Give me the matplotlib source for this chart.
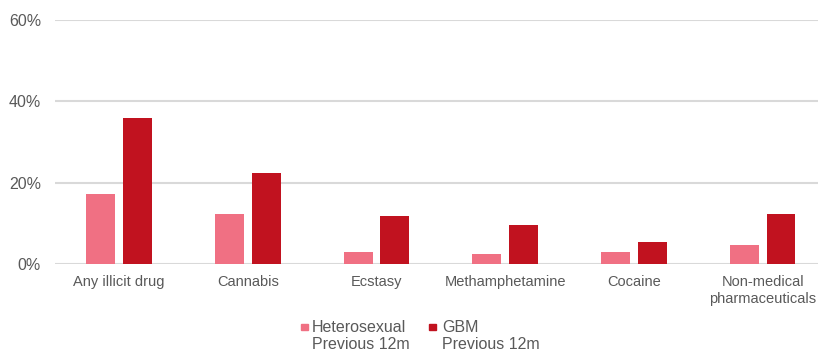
import numpy as np
import matplotlib
matplotlib.use("Agg")
import matplotlib.pyplot as plt
from matplotlib.patches import Rectangle
from matplotlib.ticker import PercentFormatter

plt.rcParams['font.family'] = ['Liberation Sans', 'DejaVu Sans']

categories = ["Any illicit drug", "Cannabis", "Ecstasy", "Methamphetamine",
              "Cocaine", "Non-medical\npharmaceuticals"]
hetero = [17.2, 12.4, 2.9, 2.5, 2.9, 4.7]
gbm = [35.9, 22.4, 11.8, 9.7, 5.5, 12.3]
series_labels = ["Heterosexual\nPrevious 12m", "GBM\nPrevious 12m"]

pink = "#F07083"
red = "#C1121F"
grey_text = "#595959"

W, H = 818, 354
fig = plt.figure(figsize=(W / 100, H / 100), dpi=100)
ax = fig.add_axes([0.067, 0.254, 0.933, 0.6895])

x = np.arange(len(categories))
w = 0.225
off = 0.1425
ax.bar(x - off, hetero, width=w, color=pink, zorder=3)
ax.bar(x + off, gbm, width=w, color=red, zorder=3)

ax.set_ylim(0, 60)
ax.set_xlim(-0.5, 5.43)
ax.set_yticks([0, 20, 40, 60])
ax.yaxis.set_major_formatter(PercentFormatter(decimals=0))
ax.grid(axis='y', color="#D9D9D9", linewidth=1.5, zorder=0)
for s in ax.spines.values():
    s.set_visible(False)
ax.tick_params(axis='both', length=0, colors=grey_text)
ax.tick_params(axis='y', pad=10, labelsize=11.5)
ax.tick_params(axis='x', pad=8, labelsize=10.5)
ax.set_xticks(x)
ax.set_xticklabels(categories, linespacing=1.3)

# legend drawn by hand so the swatch sits on the first text line
legend_items = [(301, 312, pink, series_labels[0]), (429, 442, red, series_labels[1])]
for px, tx, col, lab in legend_items:
    fig.patches.append(Rectangle((px / W, 1 - 330 / H), 6.5 / W, 6.5 / H,
                                 transform=fig.transFigure, color=col))
    fig.text(tx / W, 1 - 320 / H, lab, fontsize=11.5, color=grey_text,
             va='top', ha='left', linespacing=1.2)

fig.savefig("out.png", dpi=100)
